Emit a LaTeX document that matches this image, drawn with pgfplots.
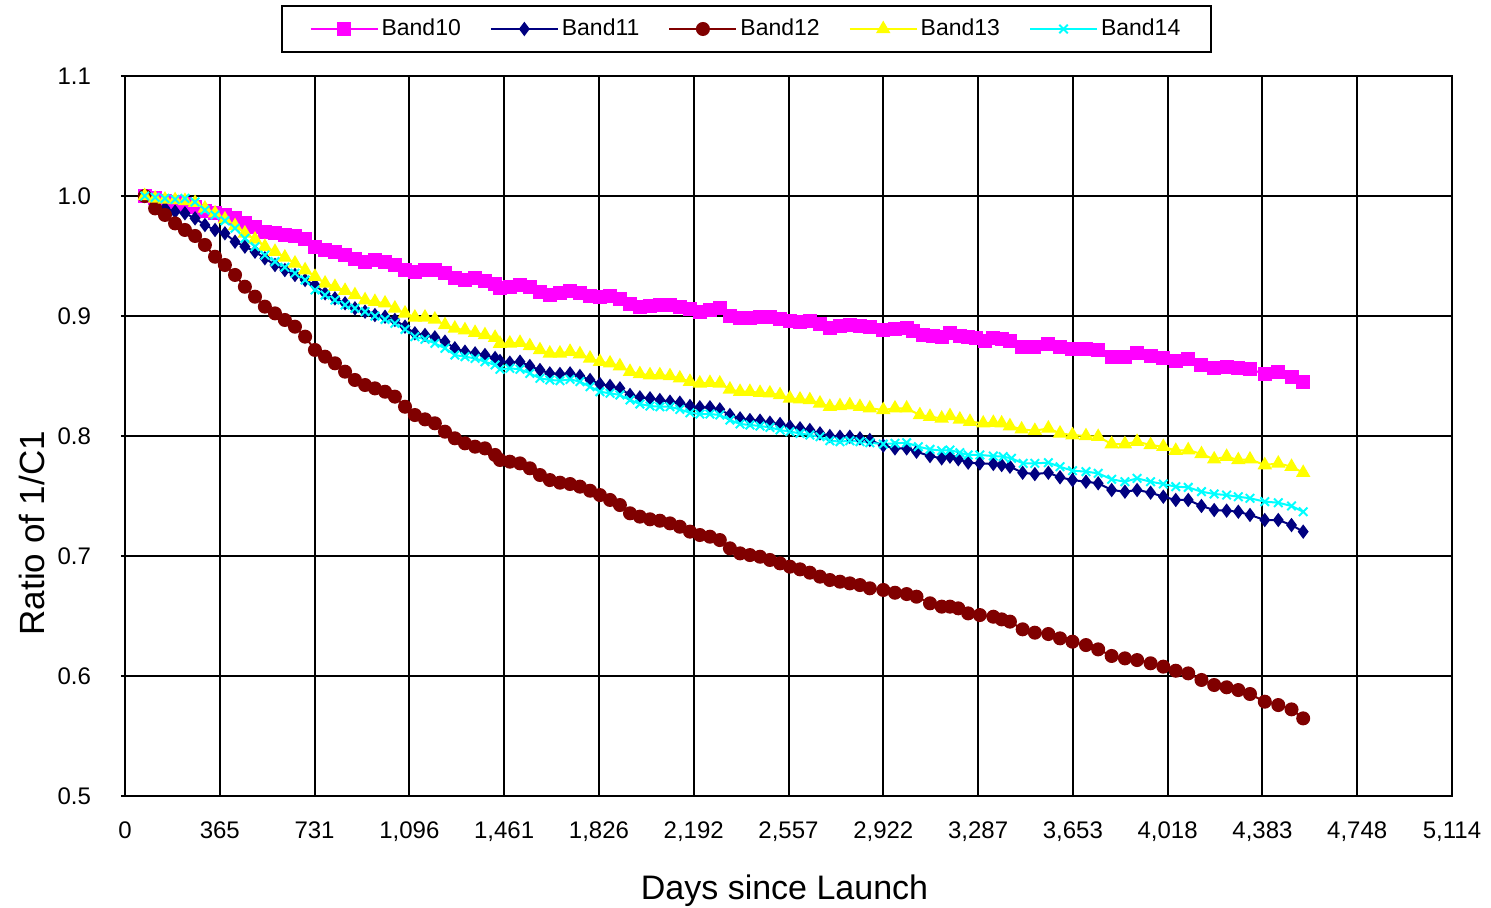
\documentclass[border=0pt]{standalone}
\usepackage{fontspec}
\setmainfont{Liberation Sans}
\usepackage{pgfplots}
\pgfplotsset{compat=1.18}

\definecolor{bten}{RGB}{255,0,255}
\definecolor{beleven}{RGB}{0,0,128}
\definecolor{btwelve}{RGB}{128,0,0}
\definecolor{bthirteen}{RGB}{255,255,0}
\definecolor{bfourteen}{RGB}{0,255,255}

\newcommand{\tickfont}{\fontsize{12pt}{14pt}\selectfont}

\begin{document}
\begin{tikzpicture}
\path[use as bounding box] (-62.5pt,-55.5pt) rectangle (683pt,398pt);
\begin{axis}[
  scale only axis,
  width=663.5pt, height=360pt,
  xmin=0, xmax=5113.5, ymin=0.5, ymax=1.1,
  xtick={0,365.25,730.5,1095.75,1461,1826.25,2191.5,2556.75,2922,3287.25,3652.5,4017.75,4383,4748.25,5113.5},
  xticklabels={0,365,731,{1,096},{1,461},{1,826},{2,192},{2,557},{2,922},{3,287},{3,653},{4,018},{4,383},{4,748},{5,114}},
  ytick={0.5,0.6,0.7,0.8,0.9,1.0,1.1},
  yticklabels={0.5,0.6,0.7,0.8,0.9,1.0,1.1},
  grid=major,
  major grid style={black, line width=1pt},
  axis line style={black, line width=1pt},
  tick align=outside,
  xtick style={draw=none},
  ytick style={black, line width=1pt},
  major tick length=2pt,
  xtick pos=bottom, ytick pos=left,
  xticklabel style={font=\tickfont, anchor=north, yshift=-7.5pt},
  yticklabel style={font=\tickfont, anchor=east, xshift=-11.5pt},
  xlabel={Days since Launch},
  ylabel={Ratio of 1/C1},
  every axis x label/.style={at={([yshift=-47.5pt]axis description cs:0.497,0)}, anchor=center, font=\fontsize{17pt}{20pt}\selectfont},
  every axis y label/.style={at={([xshift=-46.5pt]axis description cs:0,0.365)}, rotate=90, anchor=center, font=\fontsize{17.5pt}{20pt}\selectfont},
  legend columns=5,
  legend style={at={(axis description cs:0.4683,1.0653)}, anchor=center,
    draw=black, line width=1pt, fill=white,
    font=\fontsize{11.5pt}{13pt}\selectfont,
    inner xsep=14pt, inner ysep=5pt,
    nodes={inner sep=1.5pt},
    /tikz/every even column/.append style={column sep=13pt}},
  legend image code/.code={\draw[mark repeat=2,mark phase=2] plot coordinates {(0pt,0pt) (16.75pt,0pt) (33.5pt,0pt)};},
  clip=false,
]

% Band10
\addplot[color=bten, line width=1pt, mark=square*, mark size=3pt, mark options={solid, fill=bten, draw=bten}] coordinates {
(76,1.000) (116,0.998) (154,0.996) (193,0.9953) (231,0.9933) (270,0.9906) (308,0.9878) (347,0.9861) (385,0.9842) (424,0.9814)
(462,0.9778) (501,0.9744) (539,0.9703) (578,0.9689) (616,0.9675) (655,0.9667) (694,0.9639) (732,0.9578) (771,0.9550) (809,0.9536)
(848,0.9508) (886,0.9472) (925,0.9453) (963,0.9467) (1002,0.9453) (1040,0.9425) (1079,0.9383) (1117,0.9369) (1156,0.9383) (1194,0.9383)
(1233,0.9356) (1271,0.9314) (1310,0.9300) (1349,0.9314) (1387,0.9294) (1426,0.9265) (1445,0.9235) (1483,0.9244) (1522,0.9258) (1560,0.9244)
(1599,0.9203) (1637,0.9175) (1676,0.9189) (1715,0.9211) (1753,0.9194) (1792,0.9167) (1830,0.9156) (1869,0.9167) (1907,0.9139) (1946,0.9100)
(1984,0.9078) (2023,0.9083) (2061,0.9092) (2100,0.9092) (2138,0.9078) (2177,0.9056) (2215,0.9036) (2254,0.9050) (2292,0.9064) (2331,0.9000)
(2370,0.8981) (2408,0.8981) (2447,0.8989) (2485,0.8989) (2524,0.8972) (2562,0.8961) (2601,0.8953) (2639,0.8961) (2678,0.8933) (2716,0.8897)
(2755,0.8917) (2793,0.8925) (2832,0.8917) (2870,0.8911) (2922,0.8883) (2967,0.8889) (3012,0.8897) (3037,0.8878) (3076,0.8842) (3114,0.8833)
(3147,0.8828) (3179,0.8856) (3217,0.8833) (3249,0.8822) (3281,0.8814) (3314,0.8794) (3346,0.8814) (3378,0.8806) (3410,0.8794) (3455,0.8744)
(3502,0.8744) (3558,0.8764) (3603,0.8739) (3651,0.8722) (3703,0.8722) (3750,0.8717) (3802,0.8661) (3853,0.8656) (3900,0.8689) (3952,0.8667)
(4001,0.8647) (4049,0.8625) (4097,0.8639) (4148,0.8592) (4197,0.8564) (4245,0.8578) (4290,0.8564) (4335,0.8556) (4392,0.8517) (4444,0.8536)
(4495,0.8494) (4540,0.8453)
};
\addlegendentry{Band10}

% Band11
\addplot[color=beleven, line width=1pt, mark=diamond*, mark size=2.8pt, mark options={solid, fill=beleven, draw=beleven}] coordinates {
(76,1.000) (116,0.9939) (154,0.9897) (193,0.9870) (231,0.9856) (270,0.9814) (308,0.9758) (347,0.9717) (385,0.9689) (424,0.9619)
(462,0.9578) (501,0.9536) (539,0.9481) (578,0.9425) (616,0.9383) (655,0.9342) (694,0.9300) (732,0.9258) (771,0.9189) (809,0.9147)
(848,0.9106) (886,0.9064) (925,0.9036) (963,0.9008) (1002,0.8994) (1040,0.8967) (1079,0.8911) (1117,0.8856) (1156,0.8842) (1194,0.8822)
(1233,0.8786) (1271,0.8731) (1310,0.8703) (1349,0.8689) (1387,0.8675) (1426,0.8650) (1445,0.8625) (1483,0.8611) (1522,0.8619) (1560,0.8583)
(1599,0.8550) (1637,0.8522) (1676,0.8517) (1715,0.8522) (1753,0.8500) (1792,0.8467) (1830,0.8433) (1869,0.8417) (1907,0.8397) (1946,0.8342)
(1984,0.8322) (2023,0.8314) (2061,0.8300) (2100,0.8286) (2138,0.8278) (2177,0.8250) (2215,0.8239) (2254,0.8239) (2292,0.8222) (2331,0.8175)
(2370,0.8147) (2408,0.8133) (2447,0.8128) (2485,0.8111) (2524,0.8100) (2562,0.8078) (2601,0.8064) (2639,0.8050) (2678,0.8022) (2716,0.8000)
(2755,0.7994) (2793,0.7994) (2832,0.7981) (2870,0.7967) (2922,0.7920) (2967,0.7897) (3012,0.7897) (3050,0.7869) (3102,0.7833) (3147,0.7814)
(3179,0.7828) (3211,0.7806) (3249,0.7778) (3294,0.7772) (3346,0.7767) (3378,0.7758) (3410,0.7744) (3459,0.7694) (3506,0.7683) (3558,0.7694)
(3603,0.7656) (3651,0.7633) (3703,0.7619) (3750,0.7606) (3802,0.7550) (3853,0.7536) (3900,0.7550) (3952,0.7528) (4001,0.7494) (4049,0.7467)
(4097,0.7467) (4148,0.7417) (4197,0.7383) (4245,0.7378) (4290,0.7369) (4335,0.7342) (4392,0.7300) (4444,0.7300) (4495,0.7258) (4540,0.7203)
};
\addlegendentry{Band11}

% Band12
\addplot[color=btwelve, line width=1pt, mark=*, mark size=3pt, mark options={solid, fill=btwelve, draw=btwelve}] coordinates {
(76,1.000) (116,0.9897) (154,0.9842) (193,0.9772) (231,0.9717) (270,0.9667) (308,0.9592) (347,0.9494) (385,0.9425) (424,0.9342)
(462,0.9244) (501,0.9161) (539,0.9078) (578,0.9022) (616,0.8967) (655,0.8911) (694,0.8828) (732,0.8717) (771,0.8661) (809,0.8606)
(848,0.8536) (886,0.8467) (925,0.8425) (963,0.8397) (1002,0.8369) (1040,0.8328) (1079,0.8244) (1117,0.8175) (1156,0.8139) (1194,0.8106)
(1233,0.8036) (1271,0.7981) (1310,0.7939) (1349,0.7911) (1387,0.7897) (1426,0.7842) (1445,0.7800) (1483,0.7786) (1522,0.7772) (1560,0.7731)
(1599,0.7675) (1637,0.7633) (1676,0.7611) (1715,0.7600) (1753,0.7578) (1792,0.7544) (1830,0.7508) (1869,0.7467) (1907,0.7425) (1946,0.7356)
(1984,0.7328) (2023,0.7306) (2061,0.7294) (2100,0.7272) (2138,0.7244) (2177,0.7203) (2215,0.7175) (2254,0.7161) (2292,0.7133) (2331,0.7064)
(2370,0.7022) (2408,0.7008) (2447,0.6994) (2485,0.6967) (2524,0.6939) (2562,0.6911) (2601,0.6889) (2639,0.6861) (2678,0.6828) (2716,0.6800)
(2755,0.6786) (2793,0.6772) (2832,0.6758) (2870,0.6731) (2922,0.6717) (2967,0.6694) (3012,0.6683) (3050,0.6661) (3102,0.6606) (3147,0.6578)
(3179,0.6578) (3211,0.6564) (3249,0.6522) (3294,0.6508) (3346,0.6494) (3378,0.6472) (3410,0.6453) (3459,0.6389) (3506,0.6361) (3558,0.6350)
(3603,0.6314) (3651,0.6286) (3703,0.6258) (3750,0.6222) (3802,0.6167) (3853,0.6147) (3900,0.6133) (3952,0.6106) (4001,0.6078) (4049,0.6044)
(4097,0.6022) (4148,0.5967) (4197,0.5925) (4245,0.5906) (4290,0.5883) (4335,0.5850) (4392,0.5786) (4444,0.5758) (4495,0.5722) (4540,0.5647)
};
\addlegendentry{Band12}

% Band13
\addplot[color=bthirteen, line width=1pt, mark=triangle*, mark size=3.2pt, mark options={solid, fill=bthirteen, draw=bthirteen}] coordinates {
(76,1.000) (116,0.9980) (154,0.9972) (193,0.9967) (231,0.9960) (270,0.9944) (308,0.9897) (347,0.9856) (385,0.9806) (424,0.9750)
(462,0.9689) (501,0.9639) (539,0.9578) (578,0.9536) (616,0.9489) (655,0.9439) (694,0.9383) (732,0.9328) (771,0.9272) (809,0.9244)
(848,0.9211) (886,0.9175) (925,0.9133) (963,0.9119) (1002,0.9106) (1040,0.9064) (1079,0.9022) (1117,0.8989) (1156,0.8989) (1194,0.8972)
(1233,0.8925) (1271,0.8897) (1310,0.8883) (1349,0.8861) (1387,0.8842) (1426,0.8820) (1445,0.8770) (1483,0.8772) (1522,0.8778) (1560,0.8750)
(1599,0.8717) (1637,0.8689) (1676,0.8689) (1715,0.8703) (1753,0.8683) (1792,0.8647) (1830,0.8619) (1869,0.8606) (1907,0.8583) (1946,0.8536)
(1984,0.8517) (2023,0.8508) (2061,0.8508) (2100,0.8500) (2138,0.8481) (2177,0.8453) (2215,0.8439) (2254,0.8444) (2292,0.8439) (2331,0.8389)
(2370,0.8369) (2408,0.8369) (2447,0.8361) (2485,0.8356) (2524,0.8342) (2562,0.8314) (2601,0.8306) (2639,0.8300) (2678,0.8272) (2716,0.8244)
(2755,0.8250) (2793,0.8258) (2832,0.8244) (2870,0.8231) (2922,0.8217) (2967,0.8231) (3012,0.8231) (3063,0.8175) (3102,0.8161) (3147,0.8147)
(3179,0.8167) (3217,0.8139) (3256,0.8119) (3307,0.8106) (3346,0.8111) (3378,0.8106) (3410,0.8083) (3455,0.8056) (3506,0.8044) (3558,0.8064)
(3603,0.8022) (3651,0.8008) (3703,0.8000) (3750,0.7994) (3802,0.7933) (3853,0.7933) (3900,0.7953) (3952,0.7925) (4001,0.7911) (4049,0.7878)
(4097,0.7883) (4148,0.7850) (4197,0.7806) (4245,0.7828) (4290,0.7800) (4335,0.7806) (4392,0.7758) (4444,0.7772) (4495,0.7744) (4540,0.7694)
};
\addlegendentry{Band13}

% Band14
\addplot[color=bfourteen, line width=1pt, mark=x, mark size=3pt, mark options={solid, line width=1pt, draw=bfourteen}] coordinates {
(76,1.000) (116,0.9989) (154,0.9980) (193,0.9972) (231,0.9980) (270,0.9950) (308,0.9883) (347,0.9842) (385,0.9794) (424,0.9731)
(462,0.9647) (501,0.9578) (539,0.9508) (578,0.9453) (616,0.9406) (655,0.9356) (694,0.9300) (732,0.9217) (771,0.9175) (809,0.9133)
(848,0.9092) (886,0.9064) (925,0.9036) (963,0.9000) (1002,0.8972) (1040,0.8939) (1079,0.8889) (1117,0.8828) (1156,0.8806) (1194,0.8772)
(1233,0.8731) (1271,0.8675) (1310,0.8661) (1349,0.8647) (1387,0.8619) (1426,0.8592) (1445,0.8556) (1483,0.8564) (1522,0.8556) (1560,0.8522)
(1599,0.8481) (1637,0.8467) (1676,0.8461) (1715,0.8472) (1753,0.8453) (1792,0.8411) (1830,0.8369) (1869,0.8356) (1907,0.8342) (1946,0.8300)
(1984,0.8267) (2023,0.8250) (2061,0.8244) (2100,0.8244) (2138,0.8222) (2177,0.8194) (2215,0.8183) (2254,0.8183) (2292,0.8175) (2331,0.8133)
(2370,0.8100) (2408,0.8092) (2447,0.8083) (2485,0.8072) (2524,0.8050) (2562,0.8036) (2601,0.8022) (2639,0.8008) (2678,0.7994) (2716,0.7961)
(2755,0.7953) (2793,0.7961) (2832,0.7953) (2870,0.7944) (2922,0.7933) (2967,0.7939) (3012,0.7944) (3057,0.7911) (3102,0.7889) (3147,0.7878)
(3179,0.7883) (3217,0.7861) (3249,0.7842) (3294,0.7842) (3346,0.7833) (3384,0.7828) (3416,0.7814) (3461,0.7772) (3506,0.7772) (3558,0.7778)
(3603,0.7744) (3651,0.7711) (3703,0.7703) (3750,0.7689) (3802,0.7639) (3853,0.7619) (3900,0.7647) (3952,0.7619) (4001,0.7600) (4049,0.7578)
(4097,0.7572) (4148,0.7536) (4197,0.7517) (4245,0.7508) (4290,0.7494) (4335,0.7481) (4392,0.7453) (4444,0.7444) (4495,0.7417) (4540,0.7369)
};
\addlegendentry{Band14}

\end{axis}
\end{tikzpicture}
\end{document}
